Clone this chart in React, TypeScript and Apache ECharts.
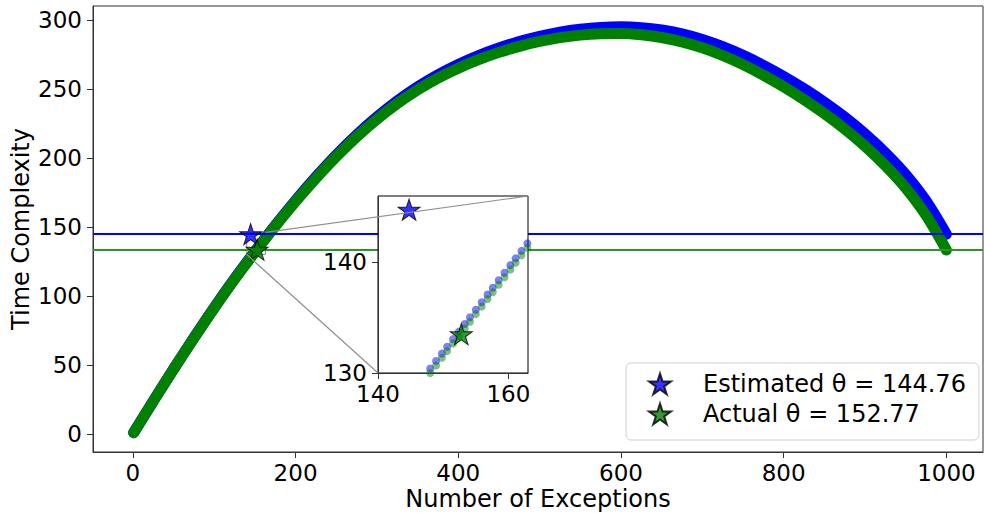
import React, { useEffect, useRef } from "react";
import * as echarts from "echarts";

// ---- data ----
const exceptionCounts = [1, 25, 50, 75, 100, 125, 150, 175, 200, 225, 250, 275, 300, 325, 350, 375, 400, 425, 450, 475, 500, 525, 550, 575, 600, 625, 650, 675, 700, 725, 750, 775, 800, 825, 850, 875, 900, 925, 950, 975, 1000];
const estimatedComplexity = [1.0, 23.8, 47.1, 69.7, 91.6, 112.5, 132.2, 151.1, 169.2, 186.2, 202.1, 216.6, 229.6, 241.2, 251.4, 260.2, 267.7, 274.1, 279.6, 284.3, 288.1, 291.1, 293.2, 294.5, 294.95, 294.3, 292.6, 289.75, 285.7, 280.5, 274.25, 267.05, 259.0, 250.1, 240.3, 229.5, 217.4, 203.7, 188.0, 168.9, 144.76];
const actualComplexity = [1.0, 23.7, 46.9, 69.4, 91.2, 112.05, 131.7, 150.5, 168.4, 185.2, 200.9, 215.2, 228.0, 239.35, 249.3, 257.8, 265.0, 271.15, 276.4, 280.8, 284.3, 287.05, 288.9, 289.95, 290.15, 289.2, 287.2, 284.05, 279.7, 274.15, 267.55, 259.95, 251.5, 242.25, 232.1, 220.95, 208.5, 194.35, 178.2, 158.4, 133.3];

const insetCounts = [148.0, 148.9, 149.8, 150.6, 151.5, 152.4, 153.3, 154.1, 155.0, 155.9, 156.8, 157.6, 158.5, 159.4, 160.3, 161.1, 162.0, 162.9];
const insetEstimated = [130.4, 131.08, 131.77, 132.38, 133.06, 133.74, 134.43, 135.04, 135.72, 136.4, 137.09, 137.7, 138.38, 139.06, 139.75, 140.36, 141.04, 141.72];
const insetActual = [130.0, 130.68, 131.37, 131.98, 132.66, 133.34, 134.03, 134.64, 135.32, 136.0, 136.69, 137.3, 137.98, 138.66, 139.35, 139.96, 140.64, 141.32];

const estimatedTheta = 144.76;
const estimatedLevel = 144.76;
const actualTheta = 152.77;
const actualLevel = 133.5;

const xTicks = [0, 200, 400, 600, 800, 1000];
const yTicks = [0, 50, 100, 150, 200, 250, 300];
const insetXTicks = [140, 160];
const insetYTicks = [130, 140];
const zoomX = [140, 163];
const zoomY = [130, 146];

const FONT = "DejaVu Sans";
const STAR =
  "path://M100 0 L122.45 69.1 L195.1 69.1 L136.3 111.8 L158.8 180.9 L100 138.2 L41.2 180.9 L63.7 111.8 L4.9 69.1 L77.55 69.1 Z";

const BLUE = "#0000ff";
const GREEN = "#008000";
const estName = `Estimated θ = ${estimatedTheta.toFixed(2)}`;
const actName = `Actual θ = ${actualTheta.toFixed(2)}`;

function pairs(xs: number[], ys: number[]) {
  return xs.map((x, i) => [x, ys[i]]);
}

function axisStyle(ticks: number[], margin: number, z: number) {
  return {
    z,
    nameMoveOverlap: false,
    axisLine: { show: true, onZero: false, lineStyle: { color: "#333", width: 1 } },
    axisTick: { show: true, inside: false, length: 6, customValues: ticks, lineStyle: { color: "#333", width: 1 } },
    axisLabel: {
      customValues: ticks, margin, fontSize: 23, color: "#000", fontFamily: FONT,
      formatter: (v: number) => String(v),
    },
    splitLine: { show: false },
  };
}

export default function App() {
  const ref = useRef<HTMLDivElement>(null);
  useEffect(() => {
    if (!ref.current) return;
    const chart = echarts.init(ref.current, undefined, { renderer: "svg" });
    const starStyle = (c: string) => ({ color: c, borderColor: "#000", borderWidth: 1, opacity: 0.8 });
    const option: any = {
      animation: false,
      backgroundColor: "#fff",
      grid: [
        { left: 93, top: 6, width: 890, height: 446, show: true, borderColor: "#333", borderWidth: 1, backgroundColor: "transparent", containLabel: false, outerBoundsMode: "none" },
        { left: 378, top: 196, width: 150, height: 177, show: true, borderColor: "#000", borderWidth: 1, backgroundColor: "#fff", z: 10, containLabel: false, outerBoundsMode: "none" },
      ],
      xAxis: [
        {
          type: "value", gridIndex: 0, min: -49, max: 1045,
          name: "Number of Exceptions", nameLocation: "middle", nameGap: 35,
          nameTextStyle: { fontSize: 24, lineHeight: 24, fontFamily: FONT, color: "#000" },
          ...axisStyle(xTicks, 9, 1),
        },
        { type: "value", gridIndex: 1, min: zoomX[0], max: zoomX[1], ...axisStyle(insetXTicks, 9, 12) },
      ],
      yAxis: [
        {
          type: "value", gridIndex: 0, min: -13, max: 310,
          name: "Time Complexity", nameLocation: "middle", nameGap: 60, nameRotate: 90,
          nameTextStyle: { fontSize: 24, lineHeight: 24, fontFamily: FONT, color: "#000" },
          ...axisStyle(yTicks, 11, 1),
        },
        { type: "value", gridIndex: 1, min: zoomY[0], max: zoomY[1], ...axisStyle(insetYTicks, 11, 12) },
      ],
      legend: {
        data: [estName, actName],
        orient: "vertical", left: 626, top: 363,
        icon: STAR, itemWidth: 22, itemHeight: 21, itemGap: 6,
        padding: [9, 13, 14, 22],
        backgroundColor: "rgba(255,255,255,0.8)", borderColor: "#d0d0d0", borderWidth: 1, borderRadius: 5,
        textStyle: { fontSize: 24, fontFamily: FONT, color: "#000", padding: [0, 0, 0, 27] },
        selectedMode: false,
        z: 30,
      },
      series: [
        {
          name: "estimatedCurve", type: "line", xAxisIndex: 0, yAxisIndex: 0, z: 2,
          data: pairs(exceptionCounts, estimatedComplexity), showSymbol: false, smooth: 0.3, silent: true,
          lineStyle: { color: BLUE, width: 11, cap: "round", join: "round" },
        },
        {
          name: "actualCurve", type: "line", xAxisIndex: 0, yAxisIndex: 0, z: 2,
          data: pairs(exceptionCounts, actualComplexity), showSymbol: false, smooth: 0.3, silent: true,
          lineStyle: { color: GREEN, width: 11, cap: "round", join: "round" },
        },
        {
          name: "levels", type: "line", xAxisIndex: 0, yAxisIndex: 0, z: 3, data: [], silent: true,
          markLine: {
            silent: true, symbol: ["none", "none"], label: { show: false },
            data: [
              { yAxis: estimatedLevel, lineStyle: { color: BLUE, width: 2, type: "solid" } },
              { yAxis: actualLevel, lineStyle: { color: "#2a962a", width: 2, type: "solid" } },
            ],
          },
          markArea: {
            silent: true,
            itemStyle: { color: "rgba(0,0,0,0)", borderColor: "#8a8a8a", borderWidth: 1 },
            data: [[{ xAxis: zoomX[0], yAxis: zoomY[0] }, { xAxis: zoomX[1], yAxis: zoomY[1] }]],
          },
        },
        {
          name: estName, type: "scatter", xAxisIndex: 0, yAxisIndex: 0, z: 5, silent: true,
          symbol: STAR, symbolSize: [22, 21], itemStyle: starStyle(BLUE),
          data: [[estimatedTheta, estimatedLevel]],
        },
        {
          name: actName, type: "scatter", xAxisIndex: 0, yAxisIndex: 0, z: 5, silent: true,
          symbol: STAR, symbolSize: [22, 21], itemStyle: starStyle(GREEN),
          data: [[actualTheta, actualLevel]],
        },
        // inset
        {
          name: "insetEstimated", type: "scatter", xAxisIndex: 1, yAxisIndex: 1, z: 12, silent: true,
          symbolSize: 8, itemStyle: { color: BLUE, opacity: 0.5 },
          data: pairs(insetCounts, insetEstimated),
        },
        {
          name: "insetActual", type: "scatter", xAxisIndex: 1, yAxisIndex: 1, z: 12, silent: true,
          symbolSize: 8, itemStyle: { color: GREEN, opacity: 0.5 },
          data: pairs(insetCounts, insetActual),
        },
        {
          name: "insetLevels", type: "line", xAxisIndex: 1, yAxisIndex: 1, z: 13, data: [], silent: true,
          markLine: {
            silent: true, symbol: ["none", "none"], label: { show: false },
            data: [
              { yAxis: estimatedLevel, lineStyle: { color: BLUE, width: 1.5, type: "solid" } },
              { yAxis: actualLevel, lineStyle: { color: "#2a962a", width: 1.5, type: "solid" } },
            ],
          },
        },
        {
          name: "insetEstStar", type: "scatter", xAxisIndex: 1, yAxisIndex: 1, z: 14, silent: true,
          symbol: STAR, symbolSize: [22, 21], itemStyle: starStyle(BLUE),
          data: [[estimatedTheta, estimatedLevel]],
        },
        {
          name: "insetActStar", type: "scatter", xAxisIndex: 1, yAxisIndex: 1, z: 14, silent: true,
          symbol: STAR, symbolSize: [22, 21], itemStyle: starStyle(GREEN),
          data: [[actualTheta, actualLevel]],
        },
      ],
    };
    chart.setOption(option);

    const mTR = chart.convertToPixel({ gridIndex: 0 } as any, [zoomX[1], zoomY[1]]) as number[];
    const mBL = chart.convertToPixel({ gridIndex: 0 } as any, [zoomX[0], zoomY[0]]) as number[];
    const iTR = chart.convertToPixel({ gridIndex: 1 } as any, [zoomX[1], zoomY[1]]) as number[];
    const iBL = chart.convertToPixel({ gridIndex: 1 } as any, [zoomX[0], zoomY[0]]) as number[];
    const connStyle = { stroke: "#8f8f8f", lineWidth: 1.2 };
    chart.setOption({
      graphic: [
        { type: "line", z: 50, silent: true, shape: { x1: mTR[0], y1: mTR[1], x2: iTR[0], y2: iTR[1] }, style: connStyle },
        { type: "line", z: 50, silent: true, shape: { x1: mBL[0], y1: mBL[1], x2: iBL[0], y2: iBL[1] }, style: connStyle },
      ],
    });

    return () => chart.dispose();
  }, []);

  return (
    <div
      ref={ref}
      style={{ position: "absolute", left: 0, top: 0, width: 984, height: 513, background: "#fff" }}
    />
  );
}
